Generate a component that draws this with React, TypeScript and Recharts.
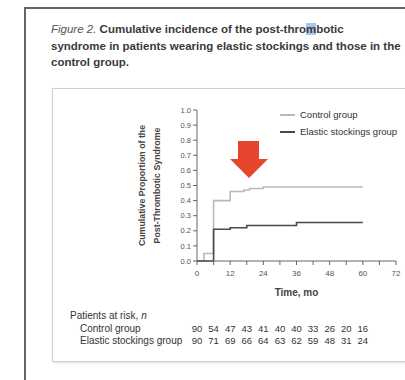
import { LineChart, Line, XAxis, YAxis, Label } from 'recharts'

// Kaplan-Meier style step points (month, cumulative proportion)
const controlMonths = [0, 2.5, 6, 12, 17, 19, 24, 60]
const controlValues = [0, 0.05, 0.4, 0.46, 0.47, 0.48, 0.49, 0.49]
const elasticMonths = [0, 6, 12, 18, 36, 60]
const elasticValues = [0, 0.21, 0.22, 0.235, 0.255, 0.255]

const xTicks = [0, 6, 12, 18, 24, 30, 36, 42, 48, 54, 60, 66, 72]
const yTicks = [0, 0.1, 0.2, 0.3, 0.4, 0.5, 0.6, 0.7, 0.8, 0.9, 1.0]

// patients at risk
const riskMonths = [0, 6, 12, 18, 24, 30, 36, 42, 48, 54, 60]
const controlAtRisk = [90, 54, 47, 43, 41, 40, 40, 33, 26, 20, 16]
const elasticAtRisk = [90, 71, 69, 66, 64, 63, 62, 59, 48, 31, 24]

const controlData = controlMonths.map((t, i) => ({ t, y: controlValues[i] }))
const elasticData = elasticMonths.map((t, i) => ({ t, y: elasticValues[i] }))
const riskData = riskMonths.map((t) => ({ t, y: 0 }))

const FONT = '"Liberation Sans", Arial, sans-serif'
const CONTROL = '#b9b9b9'
const ELASTIC = '#4a4a4a'

const riskTick = (values: number[]) => (props: any) => {
  const { x, y, payload } = props
  const i = riskMonths.indexOf(payload.value)
  return (
    <text x={x} y={y + 9} textAnchor="middle" fontSize={9.5} fill="#333" fontFamily={FONT}>
      {i >= 0 ? values[i] : ''}
    </text>
  )
}

export default function App() {
  return (
    <div
      style={{
        position: 'fixed', left: 0, top: 0, width: 405, height: 380,
        background: '#fff', fontFamily: FONT, overflow: 'hidden',
      }}
    >
      {/* page frame */}
      <div style={{ position: 'absolute', left: 24, top: 7, width: 400, height: 2, background: '#666' }} />
      <div style={{ position: 'absolute', left: 24, top: 7, width: 2, height: 380, background: '#666' }} />
      <div
        style={{
          position: 'absolute', left: 52, top: 88, width: 380, height: 272,
          border: '1px solid #cfcfcf', boxShadow: '1px 1px 2px #ddd',
        }}
      />

      <div
        style={{
          position: 'absolute', left: 51, top: 21, fontSize: 11.5, lineHeight: '16.5px',
          fontWeight: 'bold', color: '#3a3a3a', whiteSpace: 'nowrap',
        }}
      >
        <div>
          <span style={{ fontStyle: 'italic', fontWeight: 'normal', color: '#555' }}>Figure 2.</span>{' '}
          Cumulative incidence of the post-thro<span style={{ background: '#a9c7e6' }}>m</span>botic
        </div>
        <div>syndrome in patients wearing elastic stockings and those in the</div>
        <div>control group.</div>
      </div>

      <div style={{ position: 'absolute', left: 0, top: 0 }}>
        <LineChart
          width={405}
          height={360}
          margin={{ top: 110, right: 9, left: 157, bottom: 13 }}
        >
          <XAxis
            type="number"
            dataKey="t"
            domain={[0, 72]}
            ticks={xTicks}
            interval={0}
            tickFormatter={(v: number) => (v % 12 === 0 ? String(v) : '')}
            tick={{ fontSize: 8, fill: '#555' }}
            tickSize={4}
            tickMargin={5}
            stroke="#666"
            height={62}
          >
            <Label
              content={({ viewBox }: any) => (
                <text
                  x={viewBox.x + viewBox.width / 2}
                  y={viewBox.y + 35}
                  textAnchor="middle"
                  fontSize={10}
                  fontWeight="bold"
                  fill="#444"
                >
                  Time, mo
                </text>
              )}
            />
          </XAxis>
          <XAxis
            xAxisId="ctrlRisk"
            type="number"
            dataKey="t"
            domain={[0, 72]}
            ticks={riskMonths}
            interval={0}
            tick={riskTick(controlAtRisk)}
            axisLine={false}
            tickLine={false}
            tickSize={0}
            tickMargin={0}
            height={12}
          />
          <XAxis
            xAxisId="elasticRisk"
            type="number"
            dataKey="t"
            domain={[0, 72]}
            ticks={riskMonths}
            interval={0}
            tick={riskTick(elasticAtRisk)}
            axisLine={false}
            tickLine={false}
            tickSize={0}
            tickMargin={0}
            height={12}
          />
          <YAxis
            type="number"
            domain={[0, 1]}
            ticks={yTicks}
            interval={0}
            tickFormatter={(v: number) => v.toFixed(1)}
            tick={{ fontSize: 7.5, fill: '#555' }}
            tickSize={4}
            tickMargin={2}
            stroke="#666"
            width={40}
          >
            <Label
              content={({ viewBox }: any) => {
                const cy = viewBox.y + viewBox.height / 2
                return (
                  <g fontSize={8.8} fontWeight="bold" fill="#444" textAnchor="middle">
                    <text x={142} y={cy} transform={`rotate(-90 142 ${cy})`} dy={3}>
                      Cumulative Proportion of the
                    </text>
                    <text x={157} y={cy} transform={`rotate(-90 157 ${cy})`} dy={3}>
                      Post-Thrombotic Syndrome
                    </text>
                  </g>
                )
              }}
            />
          </YAxis>
          <Line
            data={controlData}
            dataKey="y"
            type="stepAfter"
            stroke={CONTROL}
            strokeWidth={1.6}
            dot={false}
            isAnimationActive={false}
          />
          <Line
            data={elasticData}
            dataKey="y"
            type="stepAfter"
            stroke={ELASTIC}
            strokeWidth={1.6}
            dot={false}
            isAnimationActive={false}
          />
          {/* invisible carriers so the at-risk axes get a domain */}
          <Line
            xAxisId="ctrlRisk"
            data={riskData}
            dataKey="y"
            stroke="none"
            dot={false}
            legendType="none"
            isAnimationActive={false}
          />
          <Line
            xAxisId="elasticRisk"
            data={riskData}
            dataKey="y"
            stroke="none"
            dot={false}
            legendType="none"
            isAnimationActive={false}
          />
        </LineChart>
      </div>

      {/* legend */}
      <div style={{ position: 'absolute', left: 280, top: 106, fontSize: 9.5, color: '#333' }}>
        {[
          ['Control group', CONTROL],
          ['Elastic stockings group', ELASTIC],
        ].map(([name, color]) => (
          <div key={name} style={{ display: 'flex', alignItems: 'center', height: 17 }}>
            <span style={{ display: 'inline-block', width: 15, height: 2, background: color, marginRight: 5 }} />
            {name}
          </div>
        ))}
      </div>

      {/* red annotation arrow */}
      <svg style={{ position: 'absolute', left: 0, top: 0 }} width={405} height={380} pointerEvents="none">
        <polygon points="238,141 259,141 259,159 268,159 249,178 230,159 238,159" fill="#e8452f" />
      </svg>

      <div style={{ position: 'absolute', left: 70, top: 310, fontSize: 10, color: '#333', lineHeight: '12.5px' }}>
        <div>Patients at risk, <i>n</i></div>
        <div style={{ paddingLeft: 10 }}>Control group</div>
        <div style={{ paddingLeft: 10 }}>Elastic stockings group</div>
      </div>
    </div>
  )
}
